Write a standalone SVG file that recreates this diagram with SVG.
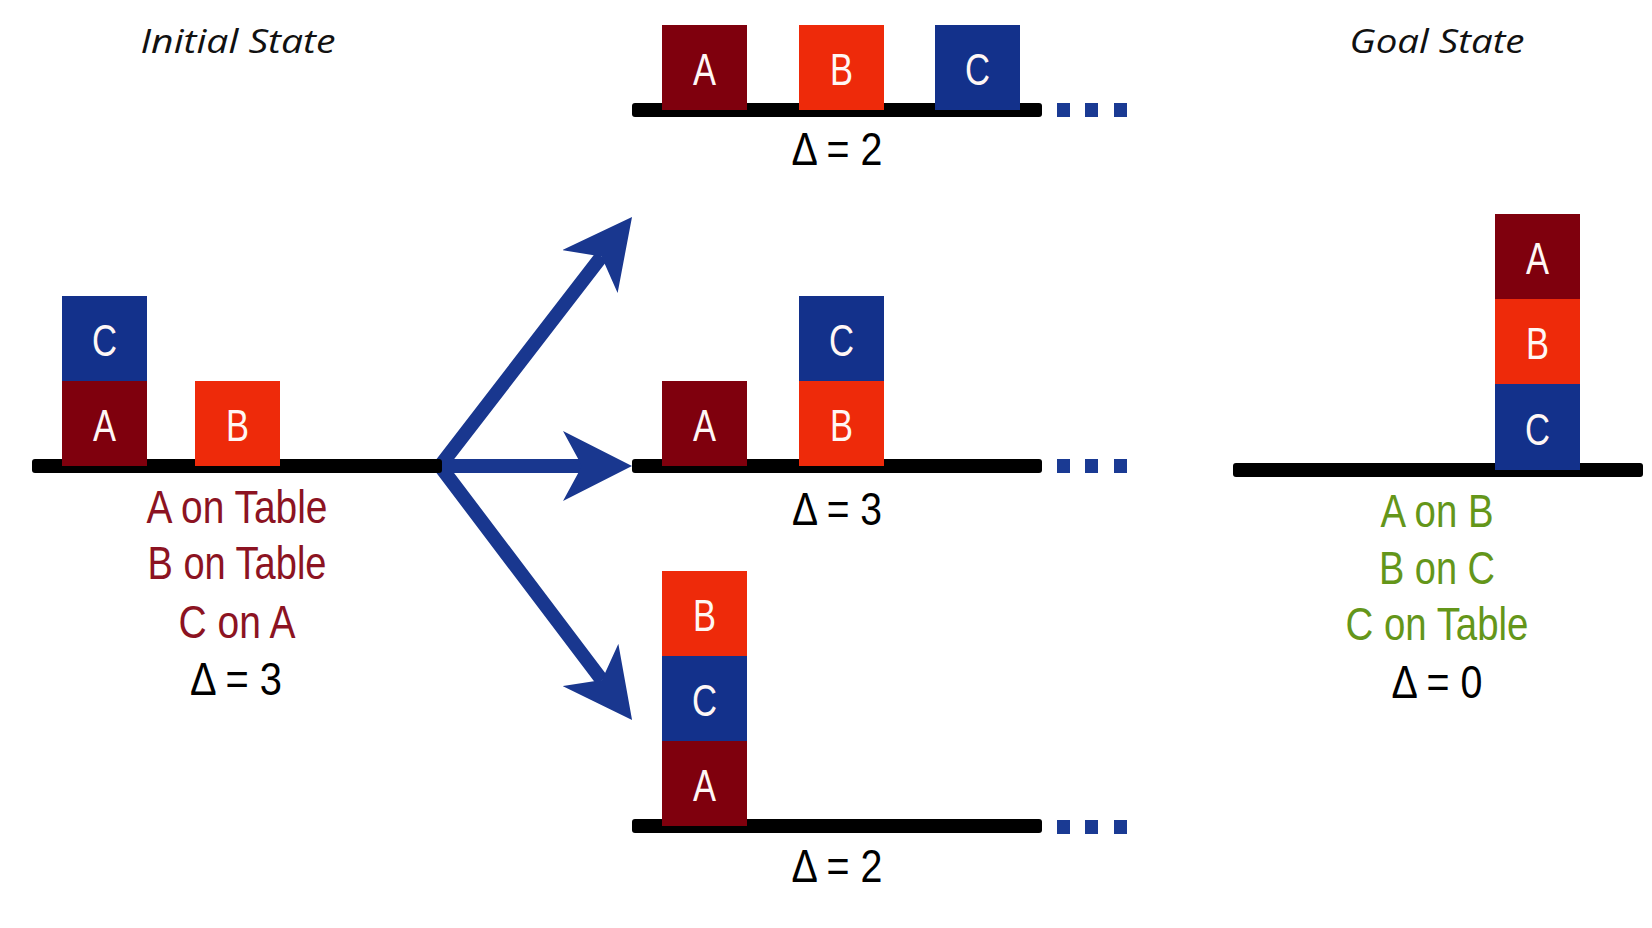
<svg xmlns="http://www.w3.org/2000/svg" width="1652" height="928" viewBox="0 0 1652 928">
<style>
.bg{fill:#ffffff}
.tbl{fill:#000000}
.dot{fill:#1a3a93}
.a{fill:#7f000d}
.b{fill:#ee2a0a}
.c{fill:#13318b}
.lt{font-family:"Liberation Sans",Arial,sans-serif;font-size:45px;fill:#fff7f5;text-anchor:middle}
.lab{font-family:"Liberation Sans",Arial,sans-serif;font-size:46px;text-anchor:middle}
.red{fill:#8c1322}
.grn{fill:#64961a}
.blk{fill:#000000}
.ttl{font-family:"Open Sans","DejaVu Sans",sans-serif;font-style:italic;font-size:33px;fill:#111111;text-anchor:middle}
.arr{fill:none;stroke:#19378f;stroke-width:14;stroke-linejoin:miter}
</style>
<defs>
<marker id="ah" viewBox="0 -35 69 70" markerWidth="69" markerHeight="70" refX="19" refY="0" orient="auto-start-reverse" markerUnits="userSpaceOnUse">
<path d="M0,-35 L69,0 L0,35 L19,0 Z" fill="#19378f"/>
</marker>
</defs>
<rect class="bg" x="0" y="0" width="1652" height="928"/>

<g id="titles">
<text class="ttl" x="238" y="53" textLength="195" lengthAdjust="spacingAndGlyphs">Initial State</text>
<text class="ttl" x="1437" y="53" textLength="175" lengthAdjust="spacingAndGlyphs">Goal State</text>
</g>

<g id="connectors">
<path class="arr" d="M601.5,256.5 L440,466 L601.9,680.1" marker-start="url(#ah)" marker-end="url(#ah)"/>
<path class="arr" d="M440,466 L582,466" marker-end="url(#ah)"/>
</g>

<g id="initial">
<rect class="tbl" x="32" y="459" width="410" height="14" rx="3"/>
<rect class="c" x="62" y="296" width="85" height="85"/>
<text class="lt" x="104.5" y="356" textLength="25" lengthAdjust="spacingAndGlyphs">C</text>
<rect class="a" x="62" y="381" width="85" height="85"/>
<text class="lt" x="104.5" y="441" textLength="23" lengthAdjust="spacingAndGlyphs">A</text>
<rect class="b" x="195" y="381" width="85" height="85"/>
<text class="lt" x="237.5" y="441" textLength="23" lengthAdjust="spacingAndGlyphs">B</text>
<text class="lab red" x="237" y="523" textLength="181" lengthAdjust="spacingAndGlyphs">A on Table</text>
<text class="lab red" x="237" y="579" textLength="179" lengthAdjust="spacingAndGlyphs">B on Table</text>
<text class="lab red" x="237" y="638" textLength="117" lengthAdjust="spacingAndGlyphs">C on A</text>
<text class="lab blk" x="236" y="695" textLength="92" lengthAdjust="spacingAndGlyphs">Δ = 3</text>
</g>

<g id="state-top">
<rect class="tbl" x="632" y="103" width="410" height="14" rx="3"/>
<rect class="a" x="662" y="25" width="85" height="85"/>
<text class="lt" x="704.5" y="85" textLength="23" lengthAdjust="spacingAndGlyphs">A</text>
<rect class="b" x="799" y="25" width="85" height="85"/>
<text class="lt" x="841.5" y="85" textLength="23" lengthAdjust="spacingAndGlyphs">B</text>
<rect class="c" x="935" y="25" width="85" height="85"/>
<text class="lt" x="977.5" y="85" textLength="25" lengthAdjust="spacingAndGlyphs">C</text>
<rect class="dot" x="1057" y="103" width="13" height="14"/>
<rect class="dot" x="1085" y="103" width="13" height="14"/>
<rect class="dot" x="1114" y="103" width="13" height="14"/>
<text class="lab blk" x="837" y="165" textLength="91" lengthAdjust="spacingAndGlyphs">Δ = 2</text>
</g>

<g id="state-middle">
<rect class="tbl" x="632" y="459" width="410" height="14" rx="3"/>
<rect class="a" x="662" y="381" width="85" height="85"/>
<text class="lt" x="704.5" y="441" textLength="23" lengthAdjust="spacingAndGlyphs">A</text>
<rect class="c" x="799" y="296" width="85" height="85"/>
<text class="lt" x="841.5" y="356" textLength="25" lengthAdjust="spacingAndGlyphs">C</text>
<rect class="b" x="799" y="381" width="85" height="85"/>
<text class="lt" x="841.5" y="441" textLength="23" lengthAdjust="spacingAndGlyphs">B</text>
<rect class="dot" x="1057" y="459" width="13" height="14"/>
<rect class="dot" x="1085" y="459" width="13" height="14"/>
<rect class="dot" x="1114" y="459" width="13" height="14"/>
<text class="lab blk" x="837" y="525" textLength="90" lengthAdjust="spacingAndGlyphs">Δ = 3</text>
</g>

<g id="state-bottom">
<rect class="tbl" x="632" y="819" width="410" height="14" rx="3"/>
<rect class="b" x="662" y="571" width="85" height="85"/>
<text class="lt" x="704.5" y="631" textLength="23" lengthAdjust="spacingAndGlyphs">B</text>
<rect class="c" x="662" y="656" width="85" height="85"/>
<text class="lt" x="704.5" y="716" textLength="25" lengthAdjust="spacingAndGlyphs">C</text>
<rect class="a" x="662" y="741" width="85" height="85"/>
<text class="lt" x="704.5" y="801" textLength="23" lengthAdjust="spacingAndGlyphs">A</text>
<rect class="dot" x="1057" y="820" width="13" height="14"/>
<rect class="dot" x="1085" y="820" width="13" height="14"/>
<rect class="dot" x="1114" y="820" width="13" height="14"/>
<text class="lab blk" x="837" y="882" textLength="91" lengthAdjust="spacingAndGlyphs">Δ = 2</text>
</g>

<g id="goal">
<rect class="tbl" x="1233" y="463" width="410" height="14" rx="3"/>
<rect class="a" x="1495" y="214" width="85" height="85"/>
<text class="lt" x="1537.5" y="274" textLength="23" lengthAdjust="spacingAndGlyphs">A</text>
<rect class="b" x="1495" y="299" width="85" height="85"/>
<text class="lt" x="1537.5" y="359" textLength="23" lengthAdjust="spacingAndGlyphs">B</text>
<rect class="c" x="1495" y="384" width="85" height="86"/>
<text class="lt" x="1537.5" y="445" textLength="25" lengthAdjust="spacingAndGlyphs">C</text>
<text class="lab grn" x="1437" y="527" textLength="113" lengthAdjust="spacingAndGlyphs">A on B</text>
<text class="lab grn" x="1437" y="584" textLength="116" lengthAdjust="spacingAndGlyphs">B on C</text>
<text class="lab grn" x="1437" y="640" textLength="183" lengthAdjust="spacingAndGlyphs">C on Table</text>
<text class="lab blk" x="1437" y="698" textLength="91" lengthAdjust="spacingAndGlyphs">Δ = 0</text>
</g>
</svg>
